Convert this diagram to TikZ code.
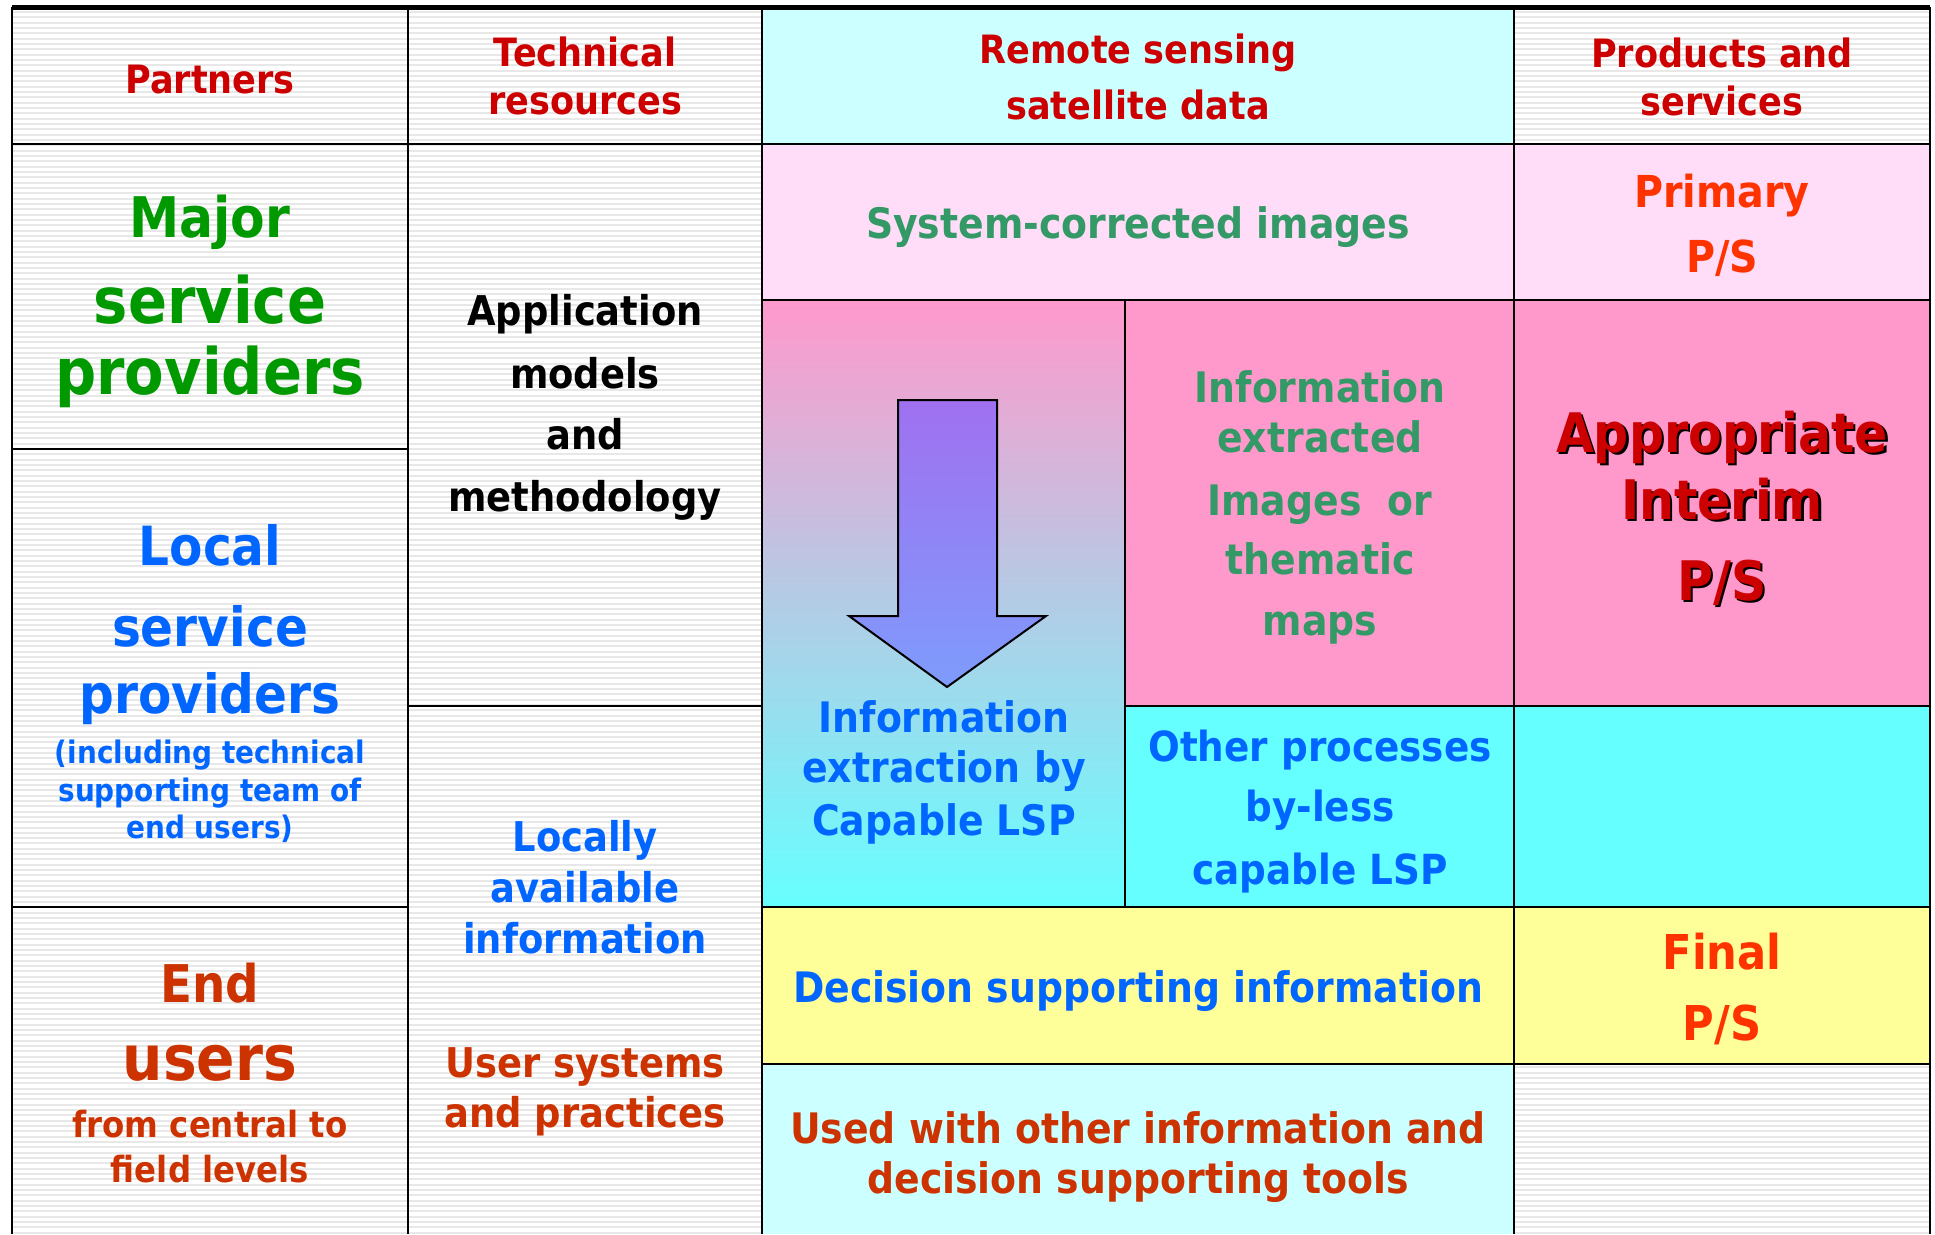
\documentclass[tikz,border=0pt]{standalone}
\usepackage{fontspec}
\setmainfont{DejaVu Sans}[FakeStretch=0.9]
\definecolor{lcyan}{HTML}{CCFFFF}
\definecolor{lpink}{HTML}{FFDCF8}
\definecolor{pinkc}{HTML}{FF99CC}
\definecolor{midc}{HTML}{E2B6D8}
\definecolor{cyanc}{HTML}{66FFFF}
\definecolor{yel}{HTML}{FFFF99}
\definecolor{stripe}{HTML}{E8E8E8}
\definecolor{hdred}{HTML}{CC0000}
\definecolor{grn}{HTML}{009900}
\definecolor{grn2}{HTML}{339966}
\definecolor{blu}{HTML}{0066FF}
\definecolor{orr}{HTML}{CC3300}
\definecolor{ora}{HTML}{FF3300}
\definecolor{arrtop}{HTML}{A070F0}
\definecolor{arrbot}{HTML}{7E9CFC}
\tikzset{
  tx/.style={anchor=base, inner sep=0pt},
  sz/.style={font=\bfseries\fontsize{#1}{#1}\selectfont},
  grid/.style={line width=2.5pt, black},
}
\begin{document}
\begin{tikzpicture}[x=1pt,y=-1pt]
\useasboundingbox (0,0) rectangle (1935,1234);
\fill[white] (0,0) rectangle (1935,1234);
% striped background
\foreach \i in {0,...,231}
  \draw[stripe, line width=2pt] (12,{12+\i*5.33}) -- (1930,{12+\i*5.33});
% coloured cells
\fill[lcyan] (762,7) rectangle (1514,144);
\fill[lpink] (762,144) rectangle (1930,300);
\shade[top color=pinkc, middle color=midc, bottom color=cyanc] (762,300) rectangle (1125,907);
\fill[pinkc] (1125,300) rectangle (1930,706);
\fill[cyanc] (1125,706) rectangle (1930,907);
\fill[yel] (762,907) rectangle (1930,1064);
\fill[lcyan] (762,1064) rectangle (1514,1234);
% grid
\draw[line width=5pt] (12,7) -- (1930,7);
\draw[grid] (12,7) -- (12,1234);
\draw[grid] (408,7) -- (408,1234);
\draw[grid] (762,7) -- (762,1234);
\draw[grid] (1514,7) -- (1514,1234);
\draw[grid] (1930,7) -- (1930,1234);
\draw[grid] (1125,300) -- (1125,907);
\draw[grid] (12,144) -- (1930,144);
\draw[grid] (762,300) -- (1930,300);
\draw[grid] (12,449) -- (408,449);
\draw[grid] (408,706) -- (762,706);
\draw[grid] (1125,706) -- (1930,706);
\draw[grid] (12,907) -- (408,907);
\draw[grid] (762,907) -- (1930,907);
\draw[grid] (762,1064) -- (1930,1064);
% arrow
\shade[top color=arrtop, bottom color=arrbot, draw=black, line width=2pt, line join=miter]
  (898,400) -- (997,400) -- (997,616) -- (1046,616) -- (947,687) -- (849,616) -- (898,616) -- cycle;
% header row
\node[tx, sz=39, hdred] (partners) at (210,93) {Partners};
\node[tx, sz=39, hdred] (tech1) at (585,66) {Technical};
\node[tx, sz=39, hdred] (tech2) at (585,114) {resources};
\node[tx, sz=39, hdred] (rs1) at (1138,63) {Remote sensing};
\node[tx, sz=39, hdred] (rs2) at (1138,119) {satellite data};
\node[tx, sz=39, hdred] (ps1) at (1722,67) {Products and};
\node[tx, sz=39, hdred] (ps2) at (1722,115) {services};
% column 1
\node[tx, sz=56, grn] (maj1) at (210,237) {Major};
\node[tx, sz=64, grn] (maj2) at (210,323) {service};
\node[tx, sz=64, grn] (maj3) at (210,394) {providers};
\node[tx, sz=54, blu] (loc1) at (210,565) {Local};
\node[tx, sz=54, blu] (loc2) at (210,646) {service};
\node[tx, sz=54, blu] (loc3) at (210,713) {providers};
\node[tx, sz=31, blu] (loc4) at (210,763) {(including technical};
\node[tx, sz=31, blu] (loc5) at (210,801) {supporting team of};
\node[tx, sz=31, blu] (loc6) at (210,838) {end users)};
\node[tx, sz=52, orr] (end1) at (210,1002) {End};
\node[tx, sz=63, orr] (end2) at (210,1080) {users};
\node[tx, sz=36, orr] (end3) at (210,1137) {from central to};
\node[tx, sz=36, orr] (end4) at (210,1182) {field levels};
% column 2
\node[tx, sz=41, black] (app1) at (585,325) {Application};
\node[tx, sz=41, black] (app2) at (585,388) {models};
\node[tx, sz=41, black] (app3) at (585,449) {and};
\node[tx, sz=41, black] (app4) at (585,511) {methodology};
\node[tx, sz=41, blu] (lai1) at (585,851) {Locally};
\node[tx, sz=41, blu] (lai2) at (585,902) {available};
\node[tx, sz=41, blu] (lai3) at (585,953) {information};
\node[tx, sz=41, orr] (usp1) at (585,1077) {User systems};
\node[tx, sz=41, orr] (usp2) at (585,1127) {and practices};
% centre
\node[tx, sz=42, grn2] (sci) at (1138,238) {System-corrected images};
\node[tx, sz=42, blu] (iec1) at (944,732) {Information};
\node[tx, sz=42, blu] (iec2) at (944,782) {extraction by};
\node[tx, sz=42, blu] (iec3) at (944,835) {Capable LSP};
\node[tx, sz=42, grn2] (ie1) at (1320,402) {Information};
\node[tx, sz=42, grn2] (ie2) at (1320,452) {extracted};
\node[tx, sz=42, grn2] (ie3) at (1320,515) {Images\ \ or};
\node[tx, sz=42, grn2] (ie4) at (1320,574) {thematic};
\node[tx, sz=42, grn2] (ie5) at (1320,635) {maps};
\node[tx, sz=41.5, blu] (op1) at (1320,761) {Other processes};
\node[tx, sz=41.5, blu] (op2) at (1320,821) {by-less};
\node[tx, sz=41.5, blu] (op3) at (1320,884) {capable LSP};
\node[tx, sz=42, blu] (dsi) at (1138,1002) {Decision supporting information};
\node[tx, sz=42, orr] (uw1) at (1138,1143) {Used with other information and};
\node[tx, sz=42, orr] (uw2) at (1138,1193) {decision supporting tools};
% right column
\node[tx, sz=44, ora] (pr1) at (1722,207) {Primary};
\node[tx, sz=44, ora] (pr2) at (1722,272) {P/S};
\node[tx, sz=54.5, black] (apsh1) at (1724.5,454.5) {Appropriate};
\node[tx, sz=54.5, black] (apsh2) at (1724.5,521.5) {Interim};
\node[tx, sz=54.5, black] (apsh3) at (1724.5,602.5) {P/S};
\node[tx, sz=54.5, hdred] (ap1) at (1722,452) {Appropriate};
\node[tx, sz=54.5, hdred] (ap2) at (1722,519) {Interim};
\node[tx, sz=54.5, hdred] (ap3) at (1722,600) {P/S};
\node[tx, sz=48, ora] (fi1) at (1722,969) {Final};
\node[tx, sz=48, ora] (fi2) at (1722,1040) {P/S};
\end{tikzpicture}
\end{document}
